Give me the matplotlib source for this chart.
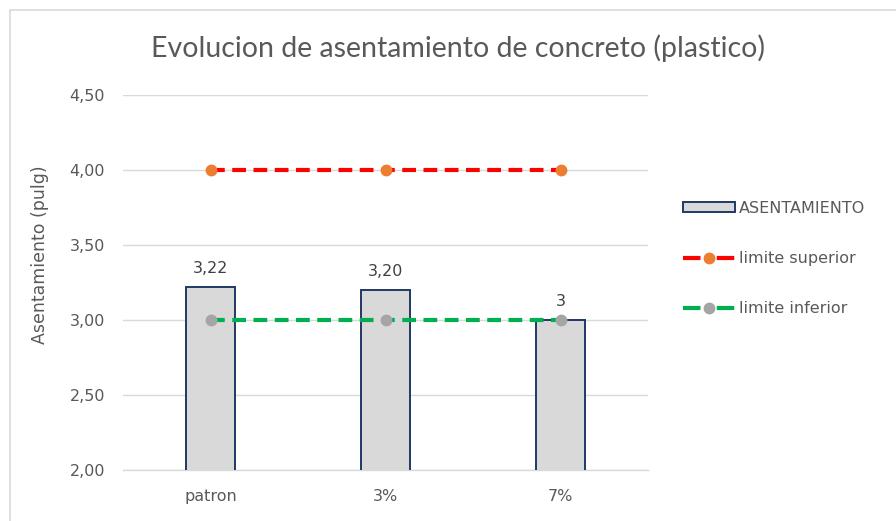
import matplotlib
matplotlib.use("Agg")
import matplotlib.pyplot as plt
from matplotlib.patches import Rectangle, Patch
from matplotlib.lines import Line2D
from matplotlib.ticker import FuncFormatter, MultipleLocator

plt.rcParams['font.family'] = ['DejaVu Sans']

categories = ["patron", "3%", "7%"]
asentamiento = [3.22, 3.20, 3.00]
asentamiento_labels = ["3,22", "3,20", "3"]
limite_superior = [4.0, 4.0, 4.0]
limite_inferior = [3.0, 3.0, 3.0]

TEXT = "#595959"
GRID = "#D9D9D9"
SMALL = 11.5

fig = plt.figure(figsize=(8.96, 5.21), dpi=100)
fig.patch.set_facecolor("white")

# chart frame
fig.patches.append(Rectangle((10 / 896, -0.05), 1.2, 1 - 10 / 521 + 0.05,
                             transform=fig.transFigure, fill=False,
                             edgecolor="#D9D9D9", linewidth=1.2))

ax = fig.add_axes([123 / 896, 51 / 521, 525 / 896, 375 / 521])
x = list(range(len(categories)))

bars = ax.bar(x, asentamiento, width=0.285, bottom=0, color="#D9D9D9",
              edgecolor="#1F3864", linewidth=1.4, zorder=2)

ax.plot(x, limite_superior, color="#FF0000", linewidth=3.0, dashes=(3.3, 1.8),
        marker="o", markersize=7.5, markerfacecolor="#ED7D31",
        markeredgecolor="#ED7D31", zorder=3)
ax.plot(x, limite_inferior, color="#00B050", linewidth=3.0, dashes=(3.3, 1.8),
        marker="o", markersize=7.5, markerfacecolor="#A5A5A5",
        markeredgecolor="#A5A5A5", zorder=3)

for xi, v, lab in zip(x, asentamiento, asentamiento_labels):
    ax.annotate(lab, (xi, v), xytext=(0, 13.5), textcoords="offset points",
                ha="center", va="center", fontsize=SMALL, color="#404040")

ax.set_xlim(-0.5, 2.5)
ax.set_ylim(2.0, 4.5)
ax.yaxis.set_major_locator(MultipleLocator(0.5))
ax.yaxis.set_major_formatter(FuncFormatter(lambda v, p: f"{v:.2f}".replace(".", ",")))
ax.set_xticks(x)
ax.set_xticklabels(categories)
ax.tick_params(axis="both", length=0, labelsize=SMALL, labelcolor=TEXT)
ax.tick_params(axis="y", pad=13)
ax.tick_params(axis="x", pad=14)
ax.grid(axis="y", color=GRID, linewidth=1.0, zorder=0)
ax.set_axisbelow(True)
for side in ["top", "right", "left"]:
    ax.spines[side].set_visible(False)
ax.spines["bottom"].set_color(GRID)
ax.spines["bottom"].set_linewidth(1.0)
ax.spines["bottom"].set_zorder(1)

fig.text(458 / 896, 1 - 48 / 521, "Evolucion de asentamiento de concreto (plastico)",
         ha="center", va="center", fontsize=20.5, color=TEXT,
         family=["Lato", "DejaVu Sans"])
fig.text(40 / 896, 1 - 255 / 521, "Asentamiento (pulg)", rotation=90,
         ha="center", va="center", fontsize=12.5, color=TEXT)

handles = [
    Patch(facecolor="#D9D9D9", edgecolor="#1F3864", linewidth=1.4),
    Line2D([0], [0], color="#FF0000", linewidth=3.0, dashes=(4.2, 3.9),
           marker="o", markersize=7.5, markerfacecolor="#ED7D31",
           markeredgecolor="#ED7D31"),
    Line2D([0], [0], color="#00B050", linewidth=3.0, dashes=(4.2, 3.9),
           marker="o", markersize=7.5, markerfacecolor="#A5A5A5",
           markeredgecolor="#A5A5A5"),
]
labels = ["ASENTAMIENTO", "limite superior", "limite inferior"]
leg = fig.legend(handles, labels, loc="upper left",
                 bbox_to_anchor=(683 / 896, 1 - 201 / 521), frameon=False,
                 fontsize=SMALL, handlelength=3.25, handleheight=0.6,
                 handletextpad=0.25, labelspacing=2.2, borderpad=0,
                 borderaxespad=0, numpoints=1)
for t in leg.get_texts():
    t.set_color(TEXT)

fig.savefig("out.png", dpi=100, facecolor="white")
